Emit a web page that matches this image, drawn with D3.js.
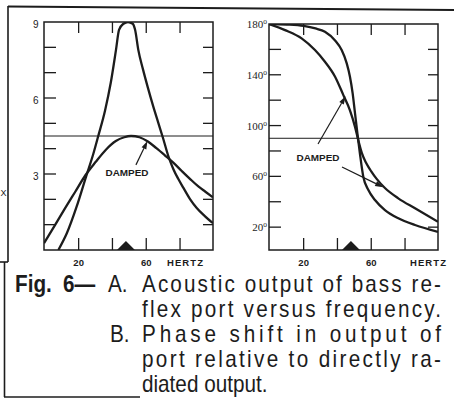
<!DOCTYPE html>
<html><head><meta charset="utf-8">
<script src="https://cdn.jsdelivr.net/npm/d3@7"></script>
<style>html,body{margin:0;padding:0;background:#fff;} svg{display:block;}</style>
</head><body>
<svg id="c" width="454" height="399"></svg>
<script>
// ---------- data ----------
const freqTicks = [20, 40, 60, 80];
const freqLabels = [20, 60];
const outputTicks = [1, 2, 3, 4, 5, 6, 7, 8];
const outputLabels = [3, 6, 9];
const phaseTicks = [20, 40, 60, 80, 100, 120, 140, 160];
const phaseLabels = [20, 60, 100, 140, 180];
const resonanceHz = 48;
const outputRefLine = 4.5;
const phaseRefLine = 90;

// Fig. 6A: acoustic output (Hz, relative output)
const outputUndamped = [[8,0],[13,0.66],[18.8,1.71],[24.4,2.9],[28.7,3.8],[31.6,4.5],[35.6,5.5],[39,6.6],
  [42.1,7.9],[43.9,8.69],[46.5,8.93],[49.2,9.0],[52,8.93],[53.4,8.69],[55.3,7.9],[58,7.15],[61,6.4],
  [64,5.7],[67,5.05],[70,4.4],[73,3.72],[76,3.2],[79,2.8],[82,2.45],[86,2.0],[90,1.65],[94.5,1.35],[99.5,1.06]];
const outputDamped = [[-0.5,0.27],[6,0.98],[12,1.65],[18,2.3],[24,2.95],[30,3.47],[36,3.95],[42,4.3],
  [47,4.45],[51,4.5],[56,4.45],[61,4.28],[66,4.02],[71,3.74],[76,3.45],[81,3.12],[86,2.8],[91,2.5],[95,2.3],[99.5,2.08]];

// Fig. 6B: phase shift (Hz, degrees)
const phaseUndamped = [[-0.5,180],[10,179.6],[20,178.5],[27,176.5],[32.6,173.9],[38.6,167],[42.5,159.5],
  [45.5,149],[47.4,138.5],[49,125.4],[50.4,109.6],[51.8,93.9],[53.3,78],[55.3,59.7],[58.3,49.2],
  [62.2,41.4],[68.1,33.5],[76,27],[85.9,21.7],[99.5,16.3]];
const phaseDamped = [[-0.5,180],[9,175.2],[18.8,168.7],[26.7,159.5],[32.6,150.3],[38.6,138.5],[43.5,124],
  [47.4,112],[50.4,99],[52.3,88.6],[54.4,78.5],[57,70.5],[60,64],[63.2,58],[68.1,50.8],[76,42.7],[85.9,34.8],[99.5,24.2]];

// "DAMPED" callout arrows: [fromHz, fromVal, toHz, toVal]
const outputArrows = [[53.9, 3.36, 60.7, 4.3]];
const phaseArrows = [[28.5, 85.5, 44.8, 123], [42.7, 67.4, 67, 51.5]];

const captionLines = [
  "Acoustic output of bass re-",
  "flex port versus frequency.",
  "Phase shift in output of",
  "port relative to directly ra-",
  "diated output."
];

// ---------- drawing ----------
const ink = "#1c1c1c";
const svg = d3.select("#c");
const defs = svg.append("defs");

// page borders (scan frame)
const border = svg.append("g").attr("stroke", ink).attr("fill", "none");
border.append("line").attr("x1", 8).attr("y1", 6.5).attr("x2", 454).attr("y2", 10).attr("stroke-width", 2);
border.append("line").attr("x1", 8).attr("y1", 6).attr("x2", 8).attr("y2", 262).attr("stroke-width", 1.6);
border.append("line").attr("x1", 0).attr("y1", 262).attr("x2", 8).attr("y2", 262).attr("stroke-width", 1.6);
border.append("line").attr("x1", 4.5).attr("y1", 262).attr("x2", 4.5).attr("y2", 397).attr("stroke-width", 1.6);
border.append("line").attr("x1", 4).attr("y1", 397).attr("x2", 140).attr("y2", 397).attr("stroke-width", 1.6);
svg.append("text").attr("x", 0.5).attr("y", 196).attr("font-family", "Liberation Sans, Arial, sans-serif")
  .attr("font-size", 9).attr("fill", ink).text("X");

function arrow(g, x1, y1, x2, y2) {
  const a = Math.atan2(y2 - y1, x2 - x1), L = 8, W = 2.6;
  const bx = x2 - L * Math.cos(a), by = y2 - L * Math.sin(a);
  g.append("line").attr("x1", x1).attr("y1", y1).attr("x2", bx).attr("y2", by)
    .attr("stroke", ink).attr("stroke-width", 1.2);
  g.append("path").attr("d", `M${x2},${y2}L${bx - W*Math.sin(a)},${by + W*Math.cos(a)}L${bx + W*Math.sin(a)},${by - W*Math.cos(a)}Z`)
    .attr("fill", ink);
}

function panel(opts) {
  const { id, x, y, yTicks, curves, refLine, arrows, labelPos, hertzX } = opts;
  const g = svg.append("g");
  const [x0, x1] = x.range(), [y0, y1] = y.range(); // y0 bottom, y1 top
  defs.append("clipPath").attr("id", id).append("rect")
    .attr("x", x0).attr("y", y1).attr("width", x1 - x0).attr("height", y0 - y1);

  // reference horizontal line
  g.append("line").attr("x1", x0).attr("x2", x1).attr("y1", y(refLine)).attr("y2", y(refLine))
    .attr("stroke", ink).attr("stroke-width", 1);

  // ticks
  const t = g.append("g").attr("stroke", ink).attr("stroke-width", 1.3);
  yTicks.forEach(v => {
    t.append("line").attr("x1", x0).attr("x2", x0 + 12).attr("y1", y(v)).attr("y2", y(v));
    t.append("line").attr("x1", x1 - 10).attr("x2", x1).attr("y1", y(v)).attr("y2", y(v));
  });
  freqTicks.forEach(f => {
    t.append("line").attr("x1", x(f)).attr("x2", x(f)).attr("y1", y1).attr("y2", y1 + 11);
    t.append("line").attr("x1", x(f)).attr("x2", x(f)).attr("y1", y0 - 12).attr("y2", y0);
  });

  // resonance marker
  const xr = x(resonanceHz);
  g.append("path").attr("d", `M${xr - 9},${y0}L${xr},${y0 - 9}L${xr + 9},${y0}Z`).attr("fill", ink);

  // curves
  const line = d3.line().x(d => x(d[0])).y(d => y(d[1])).curve(d3.curveMonotoneX);
  const cg = g.append("g").attr("clip-path", `url(#${id})`);
  curves.forEach(c => cg.append("path").attr("d", line(c)).attr("fill", "none")
    .attr("stroke", ink).attr("stroke-width", 2.3).attr("stroke-linejoin", "round"));

  // frame
  g.append("rect").attr("x", x0).attr("y", y1).attr("width", x1 - x0).attr("height", y0 - y1)
    .attr("fill", "none").attr("stroke", ink).attr("stroke-width", 1.5);

  // x labels
  freqLabels.forEach(f => g.append("text").attr("x", x(f)).attr("y", 266).attr("text-anchor", "middle")
    .attr("font-family", "Liberation Sans, Arial, sans-serif").attr("font-weight", "bold")
    .attr("font-size", 9.5).attr("fill", ink).text(f));
  g.append("text").attr("x", hertzX).attr("y", 266).attr("text-anchor", "middle")
    .attr("font-family", "Liberation Sans, Arial, sans-serif").attr("font-weight", "bold")
    .attr("font-size", 9.5).attr("fill", ink).attr("textLength", 36).attr("lengthAdjust", "spacing").text("HERTZ");

  // DAMPED callout
  g.append("text").attr("x", labelPos[0]).attr("y", labelPos[1]).attr("text-anchor", "middle")
    .attr("font-family", "Liberation Sans, Arial, sans-serif").attr("font-weight", "bold")
    .attr("font-size", 9.5).attr("fill", ink).attr("textLength", 43).attr("lengthAdjust", "spacingAndGlyphs").text("DAMPED");
  arrows.forEach(a => arrow(g, x(a[0]), y(a[1]), x(a[2]), y(a[3])));
  return g;
}

// Panel A
const xA = d3.scaleLinear().domain([-0.5, 99.5]).range([44, 213]);
const yA = d3.scaleLinear().domain([0, 9]).range([250, 22]);
const gA = panel({ id: "clipA", x: xA, y: yA, yTicks: outputTicks, curves: [outputUndamped, outputDamped],
  refLine: outputRefLine, arrows: outputArrows, labelPos: [127, 175.5], hertzX: 185 });
outputLabels.forEach(v => gA.append("text").attr("x", 38.5).attr("y", yA(v) + 5.5).attr("text-anchor", "end")
  .attr("font-family", "Liberation Sans, Arial, sans-serif").attr("font-size", 10).attr("fill", ink).text(v));

// Panel B
const xB = d3.scaleLinear().domain([-0.5, 99.5]).range([269, 438]);
const yB = d3.scaleLinear().domain([2, 180]).range([250, 24]);
const gB = panel({ id: "clipB", x: xB, y: yB, yTicks: phaseTicks, curves: [phaseUndamped, phaseDamped],
  refLine: phaseRefLine, arrows: phaseArrows, labelPos: [318, 160.5], hertzX: 428 });
phaseLabels.forEach(v => {
  const tx = gB.append("text").attr("x", 267).attr("y", yB(v) + 4).attr("text-anchor", "end")
    .attr("font-family", "Liberation Serif, Times New Roman, serif").attr("font-size", 11).attr("fill", ink);
  tx.append("tspan").text(v);
  tx.append("tspan").attr("dy", -4).attr("font-size", 7.5).text("o");
});

// Caption
const cap = svg.append("g").attr("fill", ink).attr("font-family", "Liberation Sans, Arial, Helvetica, sans-serif")
  .attr("font-size", 23);
const sx = 0.9, lineGap = 25, base0 = 291.5, textX = 142, endX = 441;
function capText(x, y, str, bold, len) {
  const t = cap.append("text").attr("transform", `translate(${x},${y}) scale(${sx},1)`).text(str);
  if (bold) t.attr("font-weight", "bold");
  if (len) t.attr("textLength", len / sx).attr("lengthAdjust", "spacing");
  return t;
}
capText(15, base0, "Fig.", true);
capText(63, base0, "6—", true);
capText(108, base0, "A.", false);
capText(110, base0 + 2 * lineGap, "B.", false);
captionLines.forEach((s, i) => {
  const justify = i < captionLines.length - 1;
  capText(textX, base0 + i * lineGap, s, false, justify ? (endX - textX) : null);
});
</script>
</body></html>
